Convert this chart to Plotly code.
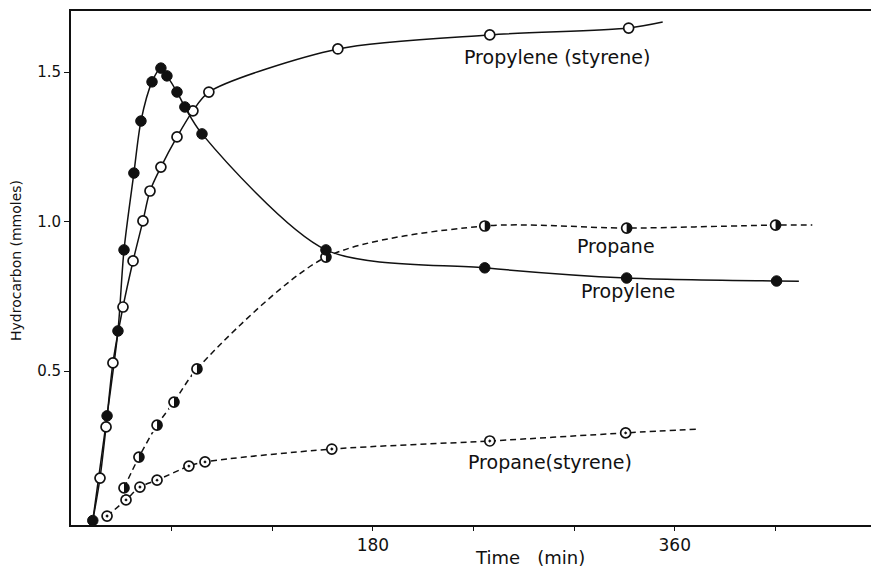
import plotly.graph_objects as go

# ---- data (time in min, hydrocarbon in mmoles) ----
propylene_t = [13, 21.5, 28, 31.6, 37.5, 41.7, 48.3, 53.6, 57.2, 63.2, 67.9, 78.1, 152, 246.7, 331.3, 420.7]
propylene_v = [0.0, 0.35, 0.634, 0.905, 1.162, 1.336, 1.467, 1.513, 1.487, 1.433, 1.383, 1.293, 0.905, 0.845, 0.811, 0.801]
propylene_line_t = [434]
propylene_line_v = [0.80]

propylene_sty_t = [17.3, 20.9, 25.0, 31.0, 37.0, 42.9, 47.1, 53.6, 63.2, 72.7, 82.2, 159.1, 249.7, 332.5]
propylene_sty_v = [0.142, 0.313, 0.527, 0.714, 0.868, 1.002, 1.102, 1.182, 1.283, 1.370, 1.433, 1.577, 1.624, 1.647]
propylene_sty_start_t = [13]
propylene_sty_start_v = [0.0]
propylene_sty_line_t = [352.8]
propylene_sty_line_v = [1.667]

propane_t = [31.6, 40.5, 51.3, 61.4, 75.1, 152, 246.7, 331.3, 420.1]
propane_v = [0.109, 0.212, 0.319, 0.396, 0.507, 0.881, 0.985, 0.978, 0.988]
propane_line_t = [442]
propane_line_v = [0.988]

propane_sty_t = [21.5, 32.8, 41.1, 51.3, 70.3, 79.9, 155.5, 249.7, 330.7]
propane_sty_v = [0.015, 0.069, 0.112, 0.135, 0.182, 0.196, 0.239, 0.266, 0.293]
propane_sty_line_t = [374]
propane_sty_line_v = [0.306]

x_tickvals = [60, 120, 180, 240, 300, 360, 420]
x_ticktext = ["", "", "180", "", "", "360", ""]
y_tickvals = [0.5, 1.0, 1.5]
y_ticktext = ["0.5", "1.0", "1.5"]

labels = ["Propylene (styrene)", "Propane", "Propylene", "Propane(styrene)"]
label_t = [289.6, 324.8, 332, 285.6]
label_v = [1.55, 0.918, 0.768, 0.196]

FONT = "DejaVu Sans"
BLACK = "#111111"
X_RANGE = [0, 477]
PLOT_W = 800  # plot area width in px
MK = 10       # marker diameter in px

fig = go.Figure()

# lines
def add_line(t, v, dash):
    fig.add_trace(go.Scatter(x=t, y=v, mode="lines",
                             line=dict(color=BLACK, width=1.5, dash=dash, shape="spline", smoothing=0.8),
                             hoverinfo="skip", showlegend=False))

add_line(propylene_t + propylene_line_t, propylene_v + propylene_line_v, "solid")
add_line(propylene_sty_start_t + propylene_sty_t + propylene_sty_line_t,
         propylene_sty_start_v + propylene_sty_v + propylene_sty_line_v, "solid")
add_line(propane_t + propane_line_t, propane_v + propane_line_v, "6px,4px")
add_line(propane_sty_t + propane_sty_line_t, propane_sty_v + propane_sty_line_v, "6px,4px")

# open circles: propylene (styrene)
fig.add_trace(go.Scatter(x=propylene_sty_t, y=propylene_sty_v, mode="markers",
                         marker=dict(symbol="circle", size=MK, color="white",
                                     line=dict(color=BLACK, width=1.7)),
                         showlegend=False))
# dotted circles: propane (styrene)
fig.add_trace(go.Scatter(x=propane_sty_t, y=propane_sty_v, mode="markers",
                         marker=dict(symbol="circle-dot", size=MK, color="white",
                                     line=dict(color=BLACK, width=1.7)),
                         showlegend=False))
# half-filled circles: propane (black disk, left half masked white, outline on top)
fig.add_trace(go.Scatter(x=propane_t, y=propane_v, mode="markers",
                         marker=dict(symbol="circle", size=MK, color=BLACK,
                                     line=dict(color=BLACK, width=0)),
                         showlegend=False, hoverinfo="skip"))
half_shift = (MK / 4) * (X_RANGE[1] - X_RANGE[0]) / PLOT_W
fig.add_trace(go.Scatter(x=[t - half_shift for t in propane_t], y=propane_v, mode="markers",
                         marker=dict(symbol="line-ns", size=MK, color="white",
                                     line=dict(color="white", width=MK / 2)),
                         showlegend=False, hoverinfo="skip"))
fig.add_trace(go.Scatter(x=propane_t, y=propane_v, mode="markers",
                         marker=dict(symbol="circle-open", size=MK, color=BLACK,
                                     line=dict(color=BLACK, width=1.7)),
                         showlegend=False))
# filled circles: propylene
fig.add_trace(go.Scatter(x=propylene_t, y=propylene_v, mode="markers",
                         marker=dict(symbol="circle", size=10.5, color=BLACK,
                                     line=dict(color=BLACK, width=1)),
                         showlegend=False))

for txt, t, v in zip(labels, label_t, label_v):
    fig.add_annotation(x=t, y=v, text=txt, showarrow=False,
                       font=dict(family=FONT, size=19, color=BLACK),
                       xanchor="center", yanchor="middle")

fig.add_annotation(xref="paper", yref="paper", x=(530 - 71) / 800, y=(525 - 557) / 514,
                   text="Time\u00a0\u00a0\u00a0(min)",
                   showarrow=False, font=dict(family=FONT, size=18, color=BLACK),
                   xanchor="center", yanchor="middle")
fig.add_annotation(xref="paper", yref="paper", x=(16 - 71) / 800, y=(525 - 261) / 514,
                   text="Hydrocarbon (mmoles)",
                   showarrow=False, textangle=-90, font=dict(family=FONT, size=14, color=BLACK),
                   xanchor="center", yanchor="middle")

fig.update_layout(
    width=871, height=568,
    margin=dict(l=71, r=0, t=11, b=43),
    paper_bgcolor="white", plot_bgcolor="white",
    showlegend=False,
    xaxis=dict(range=X_RANGE, showgrid=False, zeroline=False,
               showline=True, linecolor=BLACK, linewidth=1.8, mirror=True,
               ticks="outside", ticklen=4, tickwidth=1.2, tickcolor=BLACK,
               tickvals=x_tickvals, ticktext=x_ticktext,
               tickfont=dict(family=FONT, size=17, color=BLACK)),
    yaxis=dict(range=[-0.015, 1.704], showgrid=False, zeroline=False,
               showline=True, linecolor=BLACK, linewidth=1.8, mirror=False,
               ticks="outside", ticklen=5, tickwidth=1.2, tickcolor=BLACK,
               tickvals=y_tickvals, ticktext=y_ticktext,
               tickfont=dict(family=FONT, size=15, color=BLACK)),
)

fig.write_html("out.html", config={"displayModeBar": False},
               post_script="document.body.style.margin='0';")
